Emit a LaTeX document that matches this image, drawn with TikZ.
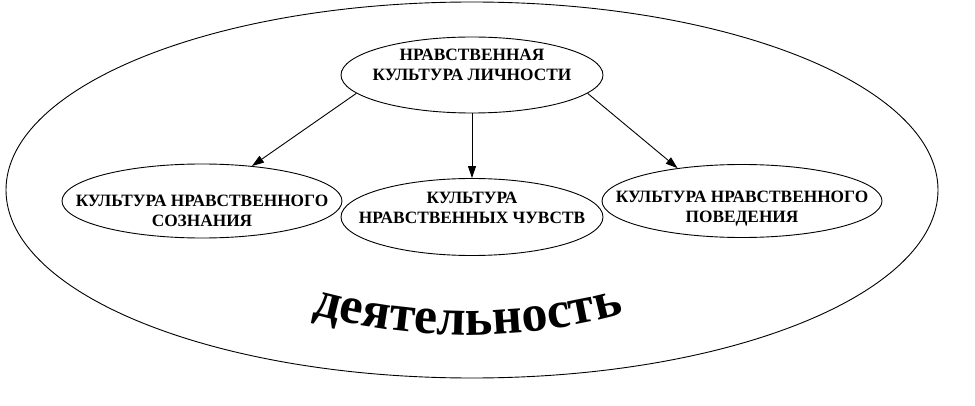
\documentclass[tikz,border=0pt]{standalone}
\usepackage{fontspec}
\setmainfont{Liberation Serif}
\usetikzlibrary{positioning,arrows.meta,shapes.geometric,decorations.text}

\begin{document}
\begin{tikzpicture}[
    x=1pt, y=1pt,
    >={Triangle[length=12pt,width=8pt]},
    oval/.style={draw, ellipse, line width=0.9pt, inner sep=0pt},
    lbl/.style={font=\fontsize{17.3}{20}\selectfont\bfseries, align=center, inner sep=0pt}
]
\useasboundingbox (0,0) rectangle (975,405);

\node[oval, minimum width=932pt, minimum height=376pt] (act) at (472,215) {};

\node[oval, minimum width=262pt, minimum height=76pt] (top) at (472,330) {};
\node[oval, minimum width=280pt, minimum height=74pt] (cons) at (202,204) {};
\node[oval, minimum width=262pt, minimum height=77pt] (feel) at (472,188) {};
\node[oval, minimum width=280pt, minimum height=73pt] (beh) at (742,204) {};

\node[lbl] (topT) at (472,340) {НРАВСТВЕННАЯ\\КУЛЬТУРА ЛИЧНОСТИ};
\node[lbl] (consT) at (202,194) {КУЛЬТУРА НРАВСТВЕННОГО\\СОЗНАНИЯ};
\node[lbl] (feelT) at (472,197) {КУЛЬТУРА\\НРАВСТВЕННЫХ ЧУВСТВ};
\node[lbl] (behT) at (742,196) {КУЛЬТУРА НРАВСТВЕННОГО\\ПОВЕДЕНИЯ};

\draw[->, line width=0.9pt] (top.189) -- (cons.35);
\draw[->, line width=0.9pt] (top.south) -- (feel.north);
\draw[->, line width=0.9pt] (top.351) -- (beh.153);

% label on the arc
\path[decorate, decoration={text along path, text align=center,
    text={|\fontsize{52}{60}\selectfont\bfseries|деятельность}}]
    (264.5,105.9) arc[start angle=250, end angle=290, radius=595pt];

\end{tikzpicture}
\end{document}
